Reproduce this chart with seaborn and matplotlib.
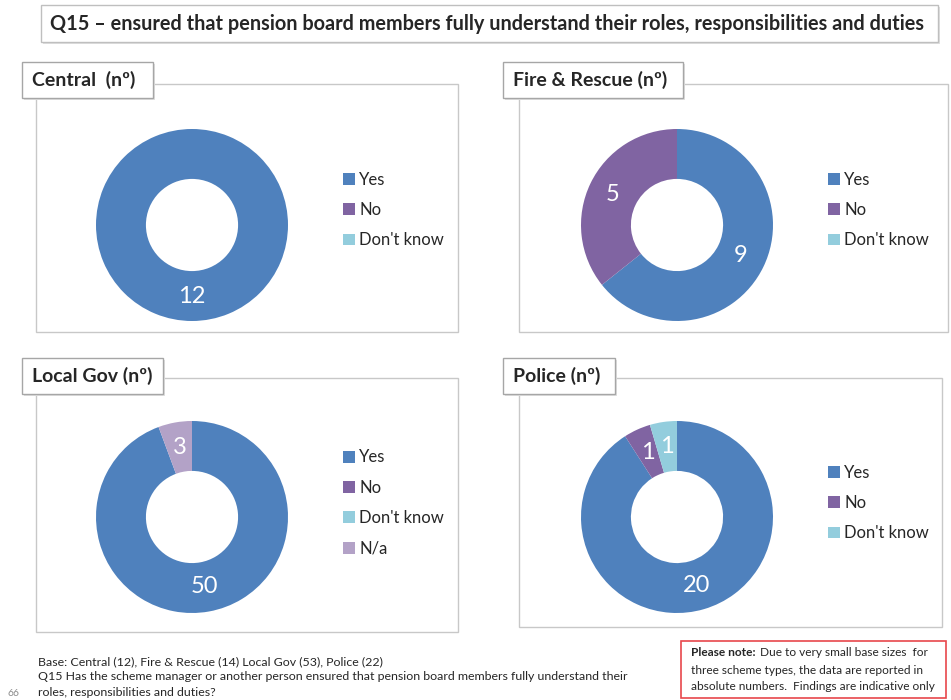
import seaborn as sns
import matplotlib.pyplot as plt
from matplotlib.patches import Rectangle, Patch

# data
panels = ["Central  (nº)", "Fire & Rescue (nº)", "Local Gov (nº)", "Police (nº)"]
cats = ["Yes", "No", "Don't know", "N/a"]
central = [12, 0, 0]
fire_rescue = [9, 5, 0]
local_gov = [50, 0, 0, 3]
police = [20, 1, 1]
colors = ["#4F81BD", "#8064A2", "#93CDDD", "#B3A2C7"]

W, H = 951, 700

sns.set_theme(style="white")
plt.rcParams['font.family'] = ['Lato', 'DejaVu Sans']

fig = plt.figure(figsize=(W / 100, H / 100), dpi=100)


def fx(x):
    return x / W


def fy(y):
    return 1 - y / H


def box(x0, y0, x1, y1, ec="#BFBFBF", lw=1.0, fc="none", z=1):
    r = Rectangle((fx(x0), fy(y1)), fx(x1) - fx(x0), fy(y0) - fy(y1),
                  transform=fig.transFigure, fc=fc, ec=ec, lw=lw, zorder=z)
    fig.add_artist(r)


def donut(values, title, cx, cy, lbl_box, frame, leg_x, leg_y):
    # panel frame
    box(*frame, ec="#C8C8C8", lw=1.0)
    # label box with a light shadow
    x0, y0, x1, y1 = lbl_box
    box(x0 + 2, y0 + 2, x1 + 2, y1 + 2, ec="none", fc="#E0E0E0", z=2)
    box(x0, y0, x1, y1, ec="#A6A6A6", lw=1.0, fc="white", z=3)
    fig.text(fx(x0 + 10), fy((y0 + y1) / 2), title, fontsize=14, fontweight="bold",
             va="center", ha="left", zorder=4)

    r = 96
    ax = fig.add_axes([fx(cx - r), fy(cy + r), fx(2 * r), (2 * r) / H])
    vals = [v for v in values if v > 0]
    cols = [colors[i] for i, v in enumerate(values) if v > 0]
    total = sum(vals)
    ax.pie(vals, colors=cols, startangle=90, counterclock=False,
           wedgeprops=dict(width=0.52, linewidth=0),
           autopct=lambda p: f"{round(p * total / 100):d}", pctdistance=0.74,
           textprops=dict(color="white", fontsize=17))
    ax.set_xlim(-1, 1)
    ax.set_ylim(-1, 1)
    ax.set_aspect("equal")
    ax.axis("off")

    n = len(values)
    handles = [Patch(fc=colors[i], ec="none") for i in range(n)]
    fig.legend(handles, cats[:n], loc="center left",
               bbox_to_anchor=(fx(leg_x), fy(leg_y)), frameon=False,
               fontsize=12, handlelength=0.72, handleheight=0.72,
               handletextpad=0.25, labelspacing=0.86, borderpad=0, borderaxespad=0)


# title box
box(43, 7, 940, 44, ec="#E0E0E0", lw=0, fc="#E0E0E0")
box(41, 5, 938, 42, ec="#BFBFBF", lw=1.0, fc="white")
fig.text(fx(50), fy(24), "Q15 – ensured that pension board members fully understand their roles, responsibilities and duties",
         fontsize=14.3, fontweight="bold", va="center", ha="left")

donut(central, panels[0], 192, 225, (22, 62, 153, 98), (36, 84, 458, 332), 343, 210)
donut(fire_rescue, panels[1], 677, 225, (503, 62, 683, 98), (519, 84, 948, 332), 828, 210)
donut(local_gov, panels[2], 192, 517, (22, 358, 163, 394), (36, 378, 458, 632), 343, 503)
donut(police, panels[3], 677, 517, (503, 358, 615, 394), (519, 378, 942, 627), 828, 503)

# footer
fs = 8.9
fig.text(fx(38), fy(662), "Base: Central (12), Fire & Rescue (14) Local Gov (53), Police (22)",
         fontsize=fs, va="center", ha="left")
fig.text(fx(38), fy(677), "Q15 Has the scheme manager or another person ensured that pension board members fully understand their",
         fontsize=fs, va="center", ha="left")
fig.text(fx(38), fy(692), "roles, responsibilities and duties?", fontsize=fs, va="center", ha="left")
fig.text(fx(8), fy(693), "66", fontsize=7.5, color="#8C8C8C", va="center", ha="left")

box(681, 641, 946, 698, ec="#E8474C", lw=1.2, fc="white")
nfs = 8.6
t = fig.text(fx(691), fy(653), "Please note:", fontsize=nfs, fontweight="bold", va="center", ha="left")
fig.canvas.draw()
bb = t.get_window_extent()
fig.text(fx(bb.x1 + 4), fy(653), "Due to very small base sizes  for", fontsize=nfs, va="center", ha="left")
fig.text(fx(691), fy(670), "three scheme types, the data are reported in", fontsize=nfs, va="center", ha="left")
fig.text(fx(691), fy(687), "absolute numbers.  Findings are indicative only", fontsize=nfs, va="center", ha="left")

fig.savefig("out.png", dpi=100)
